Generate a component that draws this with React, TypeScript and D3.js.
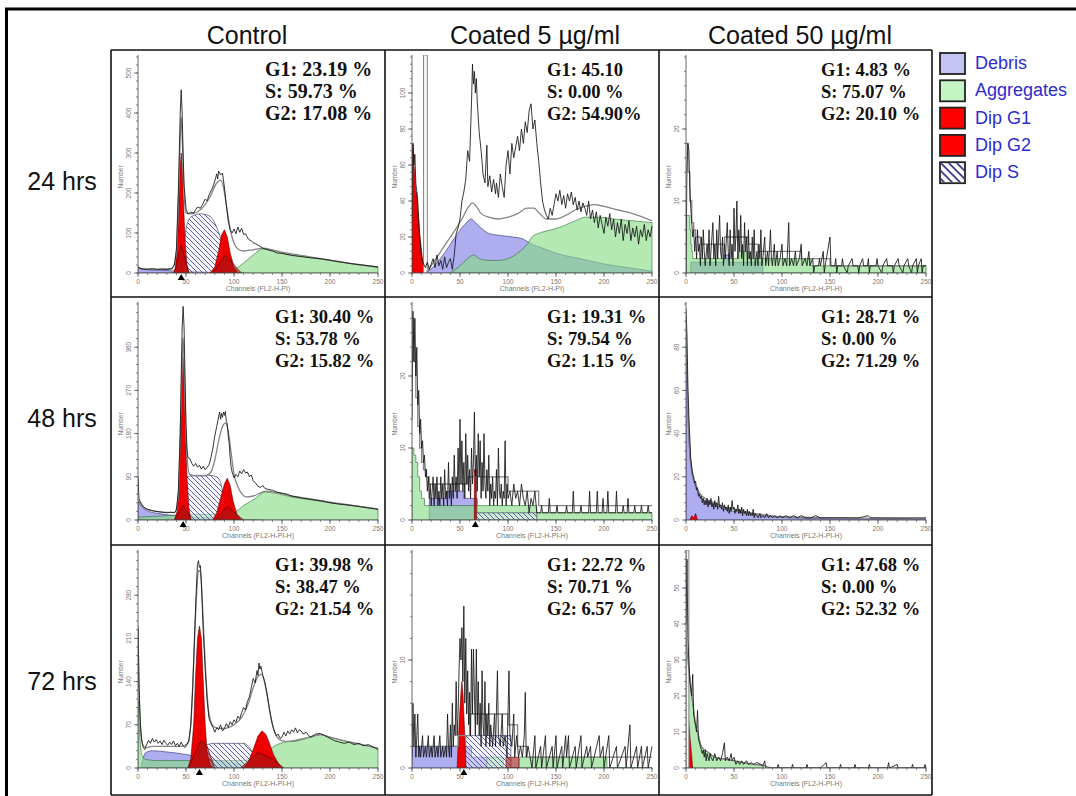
import React from 'react'
import * as d3 from 'd3'

type Pt = [number, number]

const columns = ['Control', 'Coated 5 µg/ml', 'Coated 50 µg/ml']
const rows = ['24 hrs', '48 hrs', '72 hrs']
const legendNames = ['Debris', 'Aggregates', 'Dip G1', 'Dip G2', 'Dip S']

// ---- Control, 24 hrs
const ctrl24Raw: Pt[] = [[0,16],[2,12],[5,10],[10,9],[15,11],[20,9],[25,10],[30,9],[35,11],[38,20],[40,60],[42,200],[44,400],[45,458],[46,400],[47,300],[48,220],[50,160],[52,148],[55,152],[58,150],[60,158],[62,165],[65,162],[68,175],[70,185],[72,180],[74,195],[76,205],[78,215],[80,230],[82,248],[83,235],[84,255],[86,245],[88,250],[90,215],[92,170],[94,130],[96,108],[98,100],[100,110],[102,98],[104,115],[106,102],[108,112],[110,96],[112,98],[115,85],[118,80],[120,76],[125,70],[130,62],[135,58],[140,55],[145,50],[150,49],[160,44],[170,41],[180,38],[190,36],[200,32],[210,28],[220,24],[230,21],[240,18],[250,15]]
const ctrl24Fit: Pt[] = [[0,15],[5,10],[20,9],[35,10],[40,50],[42,180],[44,340],[45,390],[46,340],[48,200],[50,150],[55,148],[65,158],[75,190],[82,225],[86,232],[89,215],[92,170],[96,110],[100,75],[104,60],[110,55],[120,58],[130,62],[140,58],[150,52],[175,42],[200,32],[225,23],[250,15]]
const ctrl24Debris: Pt[] = [[0,14],[5,9],[20,7],[40,5],[60,3],[90,1],[110,0]]
const ctrl24Agg: Pt[] = [[92,0],[100,8],[110,25],[120,45],[130,60],[140,57],[150,50],[175,40],[200,31],[225,22],[250,14]]
const ctrl24S: Pt[] = [[47,0],[50,110],[55,140],[65,148],[75,142],[80,125],[85,95],[90,55],[95,22],[100,0]]
const ctrl24G1: Pt[] = [[37,0],[39,15],[41,70],[43,200],[44,270],[45,300],[46,270],[47,200],[49,80],[51,20],[53,0]]
const ctrl24G2: Pt[] = [[75,0],[80,15],[84,55],[87,95],[90,108],[93,90],[96,50],[100,15],[104,0]]
const ctrl24SoftA: Pt[] = [[38,0],[45,70],[53,0]]
const ctrl24SoftB: Pt[] = [[78,0],[85,25],[91,45],[97,30],[103,12],[108,0]]
const ctrl24Stats = ['G1: 23.19 %', 'S: 59.73 %', 'G2: 17.08 %']

// ---- Coated 5, 24 hrs
const lo24Raw: Pt[] = [[0,30],[1,72],[2,60],[3,66],[4,50],[5,45],[6,40],[7,30],[8,20],[10,8],[12,5],[14,3],[16,6],[18,2],[20,5],[22,8],[24,3],[26,10],[28,4],[30,7],[32,2],[34,9],[36,3],[38,6],[40,8],[42,2],[44,10],[46,22],[48,25],[50,30],[52,40],[54,45],[56,52],[58,68],[60,62],[62,95],[63,116],[64,105],[65,112],[66,100],[67,108],[68,95],[70,78],[72,68],[74,55],[76,50],[78,71],[79,48],[81,54],[83,45],[85,52],[87,44],[88,50],[90,42],[92,55],[94,48],[96,42],[98,60],[100,68],[102,55],[104,72],[106,64],[108,70],[110,76],[112,68],[114,80],[116,72],[118,84],[120,78],[122,90],[124,94],[126,80],[128,85],[130,72],[132,62],[134,50],[136,40],[138,35],[140,32],[142,30],[144,36],[146,32],[148,38],[150,44],[152,40],[154,46],[156,38],[158,43],[160,36],[162,44],[164,40],[166,45],[168,38],[170,42],[172,35],[174,40],[176,34],[178,39],[180,36],[182,32],[184,40],[186,30],[188,35],[190,28],[192,34],[194,25],[196,32],[198,27],[200,22],[202,31],[204,26],[206,33],[208,24],[210,30],[212,20],[214,28],[216,22],[218,30],[220,18],[222,27],[224,22],[226,29],[228,18],[230,25],[232,20],[234,26],[236,16],[238,24],[240,20],[242,27],[244,18],[246,24],[248,20],[250,26]]
const lo24Fit: Pt[] = [[15,0],[25,8],[35,16],[45,24],[52,30],[58,36],[63,39],[67,37],[72,33],[80,31],[90,30],[100,31],[110,33],[120,36],[127,36],[133,33],[140,30],[150,30],[160,32],[170,35],[180,37],[190,38],[200,37],[215,35],[230,33],[250,29]]
const lo24Debris: Pt[] = [[15,0],[25,5],[35,12],[45,20],[55,27],[62,30],[66,28],[72,25],[80,22],[90,21],[105,20],[115,19],[125,16],[135,14],[150,11],[175,8],[200,5],[225,3],[250,1]]
const lo24Agg: Pt[] = [[40,0],[50,4],[58,8],[64,10],[70,8],[80,7],[90,7],[100,8],[110,11],[120,16],[125,20],[132,22],[145,24],[157,26],[170,29],[180,31],[195,31],[210,30],[230,29],[250,28]]
const lo24G1: Pt[] = [[0,0],[0,68],[1,72],[2,60],[3,55],[4,42],[5,45],[6,35],[8,22],[10,12],[12,4],[14,0]]
const lo24Gate: Pt = [12, 16]
const lo24Stats = ['G1: 45.10', 'S: 0.00 %', 'G2: 54.90%']

// ---- Coated 50, 24 hrs
const hi24Raw: Pt[] = [[0,0],[1,15],[2,18],[3,17],[4,12],[5,9],[6,7],[7,5],[8,6],[9,3],[10,5],[11,2],[12,6],[13,3],[14,4],[15,1],[16,5],[17,2],[18,6],[19,3],[20,1],[22,4],[23,2],[24,6],[25,1],[27,5],[28,7],[29,2],[30,4],[31,1],[32,6],[33,2],[35,8],[36,3],[37,2],[38,5],[39,1],[40,4],[41,2],[43,7],[44,3],[45,1],[46,6],[47,2],[48,4],[49,1],[50,9],[51,3],[52,5],[53,10],[54,2],[55,6],[56,3],[57,8],[58,2],[59,4],[60,1],[61,7],[62,3],[63,5],[64,1],[65,6],[66,2],[67,3],[68,1],[69,5],[70,2],[71,6],[72,1],[74,3],[75,1],[76,4],[77,2],[78,6],[79,1],[80,2],[82,5],[83,1],[85,3],[86,1],[88,6],[89,2],[90,1],[92,4],[93,1],[95,3],[96,1],[98,2],[100,4],[101,1],[103,2],[105,1],[107,7],[108,1],[110,2],[112,1],[114,3],[115,1],[118,2],[120,4],[121,1],[124,2],[126,1],[128,3],[129,1],[132,2],[133,0],[134,1],[138,1],[139,2],[140,1],[143,3],[144,0],[145,1],[150,5],[151,1],[155,1],[156,2],[157,0],[158,1],[162,1],[163,2],[164,1],[168,0],[169,1],[173,2],[174,1],[179,1],[180,0],[181,1],[184,2],[185,1],[189,1],[190,2],[191,0],[192,1],[198,1],[199,2],[200,1],[204,0],[205,1],[209,2],[210,1],[215,1],[216,0],[217,1],[221,2],[222,1],[226,0],[227,1],[231,2],[232,1],[235,0],[236,1],[240,2],[241,0],[242,1],[245,2],[246,0],[247,1],[250,1]]
const hi24Fit: Pt[] = [[0,18],[2,14],[4,10],[6,7],[8,6],[10,5],[15,4],[40,5],[65,4],[75,3],[120,2],[150,1],[250,1]]
const hi24Debris: Pt[] = [[5,1.5],[40,2.5],[45,1.5],[80,0],[250,0]]
const hi24Agg: Pt[] = [[0,8],[3,8],[4,6],[5,4],[6,3],[7,2],[55,3],[65,2],[130,1],[250,1]]
const hi24Stats = ['G1: 4.83 %', 'S: 75.07 %', 'G2: 20.10 %']

// ---- Control, 48 hrs
const ctrl48Raw: Pt[] = [[0,90],[1,45],[2,40],[4,32],[6,27],[8,24],[10,22],[14,20],[18,18],[22,17],[26,16],[30,15],[34,16],[38,15],[40,20],[42,60],[44,180],[45,300],[46,400],[47,445],[48,400],[49,300],[50,200],[51,150],[52,130],[54,128],[56,118],[58,112],[60,118],[62,110],[64,114],[66,106],[68,112],[70,105],[72,110],[74,115],[76,130],[78,150],[80,175],[82,195],[84,215],[85,225],[86,210],[87,222],[88,214],[89,225],[90,218],[91,226],[92,205],[93,200],[94,175],[95,160],[96,130],[97,110],[98,100],[100,88],[102,95],[104,90],[106,102],[108,96],[110,105],[112,98],[114,100],[116,90],[118,94],[120,82],[122,78],[125,70],[128,68],[130,72],[132,66],[135,64],[140,62],[145,58],[150,56],[155,54],[160,50],[170,46],[180,43],[190,40],[200,36],[210,33],[220,31],[230,28],[240,25],[250,22]]
const ctrl48Fit: Pt[] = [[0,42],[2,36],[5,28],[10,22],[20,18],[30,16],[38,16],[42,50],[44,180],[46,330],[47,380],[48,330],[50,180],[52,110],[54,95],[60,92],[70,92],[76,100],[80,125],[84,165],[88,195],[91,202],[94,185],[97,140],[100,95],[104,70],[108,55],[113,48],[120,50],[133,60],[145,57],[160,50],[180,44],[200,37],[225,30],[250,23]]
const ctrl48Debris: Pt[] = [[0,40],[2,32],[5,25],[10,19],[20,14],[30,11],[40,9],[50,7],[70,5],[90,3],[110,1],[130,0]]
const ctrl48Agg: Pt[] = [[0,6],[20,8],[40,10],[60,12],[80,12],[95,12],[100,15],[110,30],[120,42],[133,58],[145,55],[160,48],[180,42],[200,36],[225,30],[250,23]]
const ctrl48S: Pt[] = [[48,0],[51,90],[60,93],[75,93],[82,90],[86,78],[89,50],[92,20],[95,0]]
const ctrl48G1: Pt[] = [[38,0],[41,20],[43,90],[45,230],[46,310],[47,340],[48,310],[49,220],[51,90],[53,25],[55,0]]
const ctrl48G2: Pt[] = [[78,0],[82,15],[86,45],[90,75],[93,87],[96,72],[99,40],[103,12],[107,0]]
const ctrl48SoftA: Pt[] = [[38,0],[47,30],[56,0]]
const ctrl48SoftB: Pt[] = [[80,0],[93,28],[110,0]]
const ctrl48Stats = ['G1: 30.40 %', 'S: 53.78 %', 'G2: 15.82 %']

// ---- Coated 5, 48 hrs
const lo48Raw: Pt[] = [[0,14],[1,29],[2,22],[3,28],[4,20],[5,24],[6,16],[7,18],[8,12],[9,14],[10,10],[11,11],[12,8],[13,9],[14,6],[15,7],[16,4],[17,6],[18,3],[19,5],[20,2],[21,4],[22,6],[23,2],[24,5],[25,3],[26,6],[27,2],[28,4],[29,2],[30,6],[31,3],[32,5],[33,2],[34,7],[35,3],[36,4],[37,2],[38,8],[39,3],[40,5],[41,2],[42,6],[43,3],[44,9],[45,4],[46,6],[47,3],[48,10],[49,4],[50,14],[51,5],[52,11],[53,4],[54,8],[55,3],[56,12],[57,5],[58,9],[59,4],[60,7],[61,3],[62,10],[63,5],[64,8],[65,15],[66,6],[67,9],[68,4],[69,12],[70,6],[71,11],[72,3],[73,8],[74,4],[75,12],[76,5],[77,3],[78,7],[79,4],[80,9],[81,2],[82,5],[83,3],[84,6],[85,2],[86,4],[87,3],[88,7],[89,2],[90,10],[91,4],[92,3],[93,5],[94,2],[95,4],[96,3],[97,11],[98,2],[99,5],[100,3],[102,4],[104,2],[106,5],[108,3],[110,4],[112,2],[114,5],[116,3],[118,2],[120,4],[122,1],[124,3],[126,2],[128,4],[130,1],[134,1],[135,2],[136,1],[142,1],[143,3],[144,1],[150,1],[151,2],[152,1],[160,1],[161,2],[162,1],[167,1],[168,4],[169,1],[175,1],[176,2],[177,1],[184,1],[185,4],[186,1],[192,1],[193,4],[194,1],[198,1],[199,3],[200,1],[203,1],[204,4],[205,1],[212,1],[213,4],[214,1],[219,1],[220,2],[221,1],[224,1],[225,3],[226,1],[231,1],[232,2],[233,1],[238,1],[239,2],[240,1],[245,1],[246,2],[247,1],[250,1]]
const lo48Fit: Pt[] = [[0,28],[2,22],[4,17],[6,13],[8,10],[10,8],[12,7],[15,6],[18,5],[58,6],[100,4],[132,2],[250,2]]
const lo48Debris: Pt[] = [[18,3],[36,4],[54,3],[68,0],[250,0]]
const lo48Agg: Pt[] = [[0,10],[2,9],[4,8],[6,6],[8,4],[10,3],[13,2],[130,1],[250,1]]
const lo48S: Pt[] = [[66,0],[66,1],[130,1],[130,0]]
const lo48G1: Pt[] = [[65,0],[65,7],[67,7],[67,0]]
const lo48Stats = ['G1: 19.31 %', 'S: 79.54 %', 'G2: 1.15 %']

// ---- Coated 50, 48 hrs
const hi48Raw: Pt[] = [[0,98],[1,86],[2,62],[3,48],[4,38],[5,28],[6,24],[7,21],[8,20],[9,17],[10,18],[11,14],[12,15],[13,11],[14,12],[15,10],[16,11],[17,8],[18,10],[19,7],[20,9],[21,7],[22,10],[23,6],[24,9],[25,7],[26,10],[27,6],[28,8],[29,5],[30,9],[31,6],[32,8],[33,5],[34,11],[35,6],[36,7],[37,5],[38,8],[39,4],[40,7],[41,5],[42,6],[43,4],[44,7],[45,3],[46,6],[47,4],[48,9],[49,5],[50,6],[51,3],[52,5],[53,4],[54,7],[55,3],[56,5],[57,3],[58,6],[59,2],[60,5],[61,3],[62,4],[63,2],[64,5],[65,2],[66,4],[67,2],[68,3],[69,2],[70,5],[71,1],[72,3],[73,2],[74,2],[75,1],[77,3],[78,1],[80,2],[82,1],[84,3],[86,1],[88,2],[90,1],[92,2],[95,1],[98,2],[100,1],[104,2],[108,1],[112,2],[116,1],[120,2],[125,1],[130,1],[135,2],[140,1],[150,1],[160,1],[170,1],[180,1],[190,2],[192,1],[200,1],[210,1],[220,1],[230,1],[240,1],[250,1]]
const hi48Fit: Pt[] = [[0,88],[1,70],[2,52],[3,40],[4,32],[6,24],[8,19],[10,16],[15,12],[20,10],[30,8],[40,6],[50,5],[60,4],[80,2.5],[100,1.5],[150,1],[250,0.5]]
const hi48Debris: Pt[] = [[0,86],[1,68],[2,50],[3,38],[4,30],[6,22],[8,18],[10,15],[15,11],[20,9],[30,7],[40,5],[50,4],[60,3.5],[80,2],[100,1.2],[150,0.6],[250,0.3]]
const hi48G1: Pt[] = [[4,0],[6,2],[8,1],[10,3],[12,0]]
const hi48Stats = ['G1: 28.71 %', 'S: 0.00 %', 'G2: 71.29 %']

// ---- Control, 72 hrs
const ctrl72Raw: Pt[] = [[0,230],[1,140],[2,90],[3,60],[4,45],[5,35],[7,30],[9,38],[11,45],[13,40],[15,48],[17,42],[19,46],[21,40],[23,44],[25,38],[27,45],[29,40],[31,37],[33,42],[35,38],[37,44],[39,36],[41,40],[43,35],[45,42],[47,36],[49,33],[51,38],[53,45],[55,70],[57,130],[59,220],[61,300],[62,330],[63,336],[64,325],[65,328],[66,300],[67,260],[68,220],[70,160],[72,110],[74,80],[76,72],[78,66],[80,58],[82,65],[84,62],[86,70],[88,60],[90,64],[92,72],[94,66],[96,75],[98,70],[100,78],[102,74],[104,84],[106,80],[108,90],[110,98],[112,94],[114,108],[116,115],[118,130],[120,145],[122,138],[124,158],[125,150],[126,170],[127,160],[128,165],[130,150],[132,140],[134,125],[136,105],[138,85],[140,70],[142,60],[144,52],[146,55],[148,48],[150,50],[152,58],[154,52],[156,60],[158,55],[160,62],[162,58],[164,65],[166,57],[168,62],[170,60],[172,55],[175,58],[178,52],[180,50],[185,55],[190,56],[195,52],[200,48],[205,44],[210,42],[215,40],[220,42],[225,38],[230,40],[235,36],[240,38],[245,34],[250,30]]
const ctrl72Fit: Pt[] = [[0,225],[1,130],[2,85],[3,55],[5,38],[8,33],[15,35],[30,35],[45,35],[52,40],[55,70],[58,170],[61,280],[63,320],[65,318],[67,270],[70,170],[73,100],[76,75],[80,66],[90,64],[100,70],[108,82],[115,105],[120,130],[125,148],[129,152],[133,130],[137,95],[141,65],[145,50],[150,44],[160,43],[170,46],[180,50],[190,54],[200,50],[215,44],[230,39],[250,32]]
const ctrl72Debris: Pt[] = [[3,0],[8,25],[15,28],[30,26],[50,22],[70,16],[90,10],[110,5],[130,0]]
const ctrl72Agg: Pt[] = [[0,110],[1,80],[2,50],[3,30],[5,18],[8,14],[20,12],[40,12],[60,12],[80,12],[100,12],[115,13],[125,18],[135,28],[145,38],[160,44],[175,49],[190,54],[200,50],[215,44],[230,39],[250,32]]
const ctrl72S: Pt[] = [[55,0],[60,20],[66,32],[72,38],[80,40],[110,40],[115,35],[120,22],[124,0]]
const ctrl72G1: Pt[] = [[52,0],[55,15],[58,70],[60,150],[62,210],[64,230],[66,210],[68,140],[70,70],[72,25],[75,5],[77,0]]
const ctrl72G2: Pt[] = [[110,0],[115,10],[120,30],[125,52],[129,60],[133,55],[137,40],[141,22],[146,8],[150,0]]
const ctrl72SoftA: Pt[] = [[52,0],[66,45],[72,35],[80,0]]
const ctrl72SoftB: Pt[] = [[107,0],[125,25],[140,15],[152,0]]
const ctrl72Stats = ['G1: 39.98 %', 'S: 38.47 %', 'G2: 21.54 %']

// ---- Coated 5, 72 hrs
const lo72Raw: Pt[] = [[0,1],[1,6],[2,2],[3,5],[4,1],[5,3],[6,5],[7,1],[8,2],[9,1],[11,3],[12,1],[14,2],[15,1],[17,3],[18,1],[20,2],[21,1],[23,3],[24,1],[26,2],[27,1],[29,3],[30,1],[32,2],[33,1],[35,2],[36,1],[37,5],[38,2],[39,1],[40,4],[41,1],[42,6],[43,2],[44,4],[45,3],[46,8],[47,3],[48,5],[49,9],[50,12],[51,10],[52,13],[53,8],[54,15],[55,6],[56,12],[57,5],[58,9],[59,4],[60,7],[61,3],[62,11],[63,5],[64,11],[65,7],[66,3],[67,11],[68,4],[69,8],[70,3],[71,6],[72,2],[73,9],[74,4],[75,3],[76,8],[77,2],[78,5],[79,3],[80,6],[81,2],[82,4],[84,2],[86,5],[87,2],[89,9],[90,3],[92,2],[94,5],[95,2],[97,3],[99,1],[101,9],[102,3],[104,2],[106,5],[107,1],[109,3],[111,1],[113,2],[115,1],[117,3],[118,7],[119,1],[121,2],[123,1],[125,0],[128,3],[129,0],[134,2],[135,0],[139,3],[140,0],[146,2],[147,0],[150,3],[151,0],[156,2],[157,0],[160,3],[161,1],[163,3],[164,0],[170,2],[171,0],[176,3],[177,0],[182,2],[183,1],[186,2],[187,0],[195,3],[196,1],[199,2],[200,0],[205,3],[206,0],[213,2],[214,0],[222,2],[223,0],[227,4],[228,0],[234,2],[235,0],[239,2],[240,0],[245,2],[246,0],[250,2]]
const lo72Fit: Pt[] = [[0,2],[48,3],[60,5],[100,4],[110,2],[120,1],[250,1]]
const lo72Debris: Pt[] = [[0,2],[62,1],[78,0],[250,0]]
const lo72Agg: Pt[] = [[78,1],[95,0],[112,1],[203,0],[250,0]]
const lo72S: Pt[] = [[56,0],[56,3],[103,3],[103,0]]
const lo72G1: Pt[] = [[47,0],[49,4],[51,7],[52,8],[53,7],[55,3],[56,0]]
const lo72Soft: Pt[] = [[98,0],[98,1],[111,1],[111,0]]
const lo72Stats = ['G1: 22.72 %', 'S: 70.71 %', 'G2: 6.57 %']

// ---- Coated 50, 72 hrs
const hi72Raw: Pt[] = [[0,40],[1,58],[2,36],[3,30],[4,24],[5,22],[6,20],[7,26],[8,15],[9,13],[10,12],[11,10],[12,16],[13,8],[14,7],[15,6],[16,5],[17,4],[18,5],[19,3],[20,5],[21,2],[22,4],[23,3],[24,2],[25,4],[26,3],[28,2],[30,4],[32,2],[34,3],[36,2],[38,4],[40,7],[41,2],[43,3],[45,2],[47,4],[48,2],[50,3],[52,1],[54,2],[56,1],[58,2],[60,1],[63,2],[65,1],[68,1.5],[70,1],[74,1.5],[78,1],[80,0.5],[82,2],[83,0],[95,0],[96,1],[97,0],[110,0],[111,1],[112,0],[125,0],[126,1],[127,0],[140,0],[146,1.5],[147,0],[160,0],[161,1],[162,0],[175,0],[176,1],[177,0],[190,0],[191,1],[192,0],[210,0],[211,1.5],[212,0],[220,1],[221,0],[235,0],[236,1],[237,0],[248,0],[249,1],[250,0]]
const hi72Fit: Pt[] = [[0,36],[2,30],[4,25],[6,20],[8,16],[10,12],[13,9],[16,6],[20,5],[25,4],[30,3],[40,2.5],[50,2],[60,1.5],[70,1],[80,0.8],[90,0],[250,0]]
const hi72Agg: Pt[] = [[0,35],[2,30],[4,25],[6,20],[8,16],[10,12],[13,9],[16,6],[20,5],[25,4],[30,3],[40,2.5],[50,2],[60,1.5],[70,1],[80,0.8],[81,0]]
const hi72G1: Pt[] = [[0,0],[0,22],[2,16],[4,9],[6,3],[7,0]]
const hi72Gate: Pt = [0, 3]
const hi72Stats = ['G1: 47.68 %', 'S: 0.00 %', 'G2: 52.32 %']

type Panel = {
  yMax: number
  ticks: number[]
  minor: number
  smooth: boolean
  raw: Pt[]
  fit: Pt[]
  debris?: Pt[]
  agg?: Pt[]
  s?: Pt[]
  reds: Pt[][]
  soft: Pt[][]
  gate?: Pt
  marker?: number
  stats: string[]
  xLabel: string
}

const panels: Panel[] = [
  { yMax: 540, ticks: [0, 100, 200, 300, 400, 500], minor: 20, smooth: true, raw: ctrl24Raw, fit: ctrl24Fit, debris: ctrl24Debris, agg: ctrl24Agg, s: ctrl24S, reds: [ctrl24G1, ctrl24G2], soft: [ctrl24SoftA, ctrl24SoftB], marker: 45, stats: ctrl24Stats, xLabel: 'Channels (FL2-H-PI)' },
  { yMax: 120, ticks: [0, 20, 40, 60, 80, 100], minor: 4, smooth: true, raw: lo24Raw, fit: lo24Fit, debris: lo24Debris, agg: lo24Agg, reds: [lo24G1], soft: [], gate: lo24Gate, stats: lo24Stats, xLabel: 'Channels (FL2-H-PI)' },
  { yMax: 30, ticks: [0, 10, 20], minor: 2, smooth: false, raw: hi24Raw, fit: hi24Fit, debris: hi24Debris, agg: hi24Agg, reds: [], soft: [], stats: hi24Stats, xLabel: 'Channels (FL2-H-PI-H)' },
  { yMax: 450, ticks: [0, 90, 180, 270, 360], minor: 18, smooth: true, raw: ctrl48Raw, fit: ctrl48Fit, debris: ctrl48Debris, agg: ctrl48Agg, s: ctrl48S, reds: [ctrl48G1, ctrl48G2], soft: [ctrl48SoftA, ctrl48SoftB], marker: 47, stats: ctrl48Stats, xLabel: 'Channels (FL2-H-PI-H)' },
  { yMax: 30, ticks: [0, 10, 20], minor: 2, smooth: false, raw: lo48Raw, fit: lo48Fit, debris: lo48Debris, agg: lo48Agg, s: lo48S, reds: [lo48G1], soft: [], marker: 66, stats: lo48Stats, xLabel: 'Channels (FL2-H-PI-H)' },
  { yMax: 100, ticks: [0, 20, 40, 60, 80], minor: 4, smooth: true, raw: hi48Raw, fit: hi48Fit, debris: hi48Debris, reds: [hi48G1], soft: [], stats: hi48Stats, xLabel: 'Channels (FL2-H-PI-H)' },
  { yMax: 350, ticks: [0, 70, 140, 210, 280], minor: 14, smooth: true, raw: ctrl72Raw, fit: ctrl72Fit, debris: ctrl72Debris, agg: ctrl72Agg, s: ctrl72S, reds: [ctrl72G1, ctrl72G2], soft: [ctrl72SoftA, ctrl72SoftB], marker: 64, stats: ctrl72Stats, xLabel: 'Channels (FL2-H-PI-H)' },
  { yMax: 20, ticks: [0, 10], minor: 2, smooth: false, raw: lo72Raw, fit: lo72Fit, debris: lo72Debris, agg: lo72Agg, s: lo72S, reds: [lo72G1], soft: [lo72Soft], marker: 54, stats: lo72Stats, xLabel: 'Channels (FL2-H-PI-H)' },
  { yMax: 60, ticks: [0, 10, 20, 30, 40, 50], minor: 2, smooth: true, raw: hi72Raw, fit: hi72Fit, agg: hi72Agg, reds: [hi72G1], soft: [], gate: hi72Gate, stats: hi72Stats, xLabel: 'Channels (FL2-H-PI-H)' },
]

const colX = [111, 385, 659, 932]
const rowY = [50, 297, 545, 795]
const headerX = [247, 535, 800]
const statX = [[265, 547, 821], [275, 547, 821], [275, 547, 821]]
const sans = 'Liberation Sans, Arial, sans-serif'
const serif = 'Liberation Serif, Times New Roman, serif'

function Histogram({ p, i }: { p: Panel; i: number }) {
  const r = Math.floor(i / 3)
  const c = i % 3
  const px = colX[c]
  const py = rowY[r]
  const left = px + 27
  const right = left + 240
  const top = py + 7
  const bottom = py + 223
  const x = d3.scaleLinear().domain([0, 250]).range([left, right])
  const y = d3.scaleLinear().domain([0, p.yMax]).range([bottom, top])
  const compCurve = p.smooth ? d3.curveMonotoneX : d3.curveStepAfter
  const area = (curve: d3.CurveFactory) =>
    d3.area<Pt>().x(d => x(d[0])).y0(bottom).y1(d => y(d[1])).curve(curve)
  const line = (curve: d3.CurveFactory) =>
    d3.line<Pt>().x(d => x(d[0])).y(d => y(d[1])).curve(curve)
  const clipId = `clip${i}`
  const minorY = d3.range(0, p.yMax + 0.001, p.minor)
  const minorX = d3.range(0, 251, 10)
  const xMajor = [0, 50, 100, 150, 200, 250]

  return (
    <g>
      <clipPath id={clipId}>
        <rect x={left} y={top - 2} width={right - left + 2} height={bottom - top + 2} />
      </clipPath>
      <g clipPath={`url(#${clipId})`}>
        {p.debris && (
          <path d={area(compCurve)(p.debris) ?? ''} fill="#a4a4ee" fillOpacity={0.9} stroke="#2c2c70" strokeWidth={0.6} />
        )}
        {p.agg && (
          <path d={area(compCurve)(p.agg) ?? ''} fill="#86dc86" fillOpacity={0.62} stroke="#2d6b2d" strokeWidth={0.6} />
        )}
        {p.s && (
          <g>
            <path d={area(d3.curveMonotoneX)(p.s) ?? ''} fill="#ececf8" fillOpacity={0.45} />
            <path d={area(d3.curveMonotoneX)(p.s) ?? ''} fill="url(#hatch)" stroke="#30305a" strokeWidth={0.6} />
          </g>
        )}
        {p.reds.map((s, k) => (
          <path key={k} d={area(d3.curveLinear)(s) ?? ''} fill="#ee0000" stroke="#6a0000" strokeWidth={0.6} />
        ))}
        {p.soft.map((s, k) => (
          <path key={k} d={area(d3.curveLinear)(s) ?? ''} fill="#a01414" fillOpacity={0.6} stroke="#5a0000" strokeWidth={0.6} />
        ))}
        {p.gate && (
          <rect x={x(p.gate[0])} y={top - 2} width={x(p.gate[1]) - x(p.gate[0])} height={bottom - top + 2}
            fill="#f4f4f4" stroke="#888" strokeWidth={1} />
        )}
        <path d={line(p.smooth ? d3.curveMonotoneX : d3.curveStepAfter)(p.fit) ?? ''} fill="none" stroke="#858585" strokeWidth={1.3} />
        <path d={line(d3.curveLinear)(p.raw) ?? ''} fill="none" stroke="#151515" strokeWidth={0.85} />
      </g>

      {/* axes */}
      <line x1={left} x2={left} y1={top - 2} y2={bottom} stroke="#555" strokeWidth={0.9} />
      <line x1={left} x2={right} y1={bottom} y2={bottom} stroke="#555" strokeWidth={0.9} />
      {minorY.map(v => (
        <line key={'my' + v} x1={left - 2} x2={left} y1={y(v)} y2={y(v)} stroke="#555" strokeWidth={0.7} />
      ))}
      {p.ticks.map(v => (
        <g key={'ty' + v}>
          <line x1={left - 4} x2={left} y1={y(v)} y2={y(v)} stroke="#555" strokeWidth={0.8} />
          <text transform={`translate(${left - 7},${y(v)}) rotate(-90)`} textAnchor="middle"
            fontFamily={sans} fontSize={6.5} fill="#777">{v}</text>
        </g>
      ))}
      <text transform={`translate(${left - 15},${(top + bottom) / 2 + 12}) rotate(-90)`} textAnchor="middle"
        fontFamily={sans} fontSize={6.5} fill="#777">Number</text>
      {minorX.map(v => (
        <line key={'mx' + v} x1={x(v)} x2={x(v)} y1={bottom} y2={bottom + 2} stroke="#555" strokeWidth={0.7} />
      ))}
      {xMajor.map(v => (
        <g key={'tx' + v}>
          <line x1={x(v)} x2={x(v)} y1={bottom} y2={bottom + 4} stroke="#555" strokeWidth={0.8} />
          <text x={x(v)} y={bottom + 11} textAnchor="middle" fontFamily={sans} fontSize={6.5} fill="#777">{v}</text>
        </g>
      ))}
      <text x={(left + right) / 2} y={bottom + 18} textAnchor="middle" fontFamily={sans} fontSize={7} fill="#777">
        {p.xLabel}
      </text>
      {p.marker !== undefined && (
        <path d={`M${x(p.marker) - 3.5},${bottom + 7} L${x(p.marker) + 3.5},${bottom + 7} L${x(p.marker)},${bottom + 1} Z`} fill="#000" />
      )}

      {p.stats.map((s, k) => (
        <text key={k} x={statX[r][c]} y={py + 26 + k * 22} fontFamily={serif} fontWeight="bold"
          fontSize={i === 0 ? 20 : 18.5} fill="#111">{s}</text>
      ))}
    </g>
  )
}

export default function App() {
  const legendFill = ['#c4c4f4', '#c4f4c4', '#ff0000', '#ff0000', '#ffffff']
  return (
    <svg width={1076} height={796} style={{ position: 'absolute', left: 0, top: 0, background: '#fff' }}>
      <defs>
        <pattern id="hatch" patternUnits="userSpaceOnUse" width={5} height={5}>
          <path d="M0,0 L5,5 M-1,4 L1,6 M4,-1 L6,1" stroke="#3a3a96" strokeWidth={0.8} />
        </pattern>
        <pattern id="hatchBig" patternUnits="userSpaceOnUse" width={8} height={8}>
          <path d="M0,0 L8,8 M-2,6 L2,10 M6,-2 L10,2" stroke="#2a2a80" strokeWidth={1.6} />
        </pattern>
      </defs>
      <rect x={0} y={0} width={1076} height={796} fill="#fff" />

      {/* outer frame */}
      <line x1={5} x2={1076} y1={9} y2={9} stroke="#000" strokeWidth={3} />
      <line x1={6.5} x2={6.5} y1={8} y2={796} stroke="#000" strokeWidth={3} />

      {columns.map((t, k) => (
        <text key={t} x={headerX[k]} y={44} textAnchor="middle" fontFamily={sans} fontSize={25} fill="#111">{t}</text>
      ))}
      {rows.map((t, k) => (
        <text key={t} x={62} y={[190, 427, 690][k]} textAnchor="middle" fontFamily={sans} fontSize={25} fill="#111">{t}</text>
      ))}

      {panels.map((p, i) => <Histogram key={i} p={p} i={i} />)}

      {/* panel grid */}
      {colX.map(v => (
        <line key={'gx' + v} x1={v} x2={v} y1={rowY[0]} y2={rowY[3]} stroke="#111" strokeWidth={1.6} />
      ))}
      {rowY.map(v => (
        <line key={'gy' + v} x1={colX[0]} x2={colX[3]} y1={v} y2={v} stroke="#111" strokeWidth={1.6} />
      ))}

      {/* legend */}
      {legendNames.map((n, k) => (
        <g key={n} transform={`translate(940,${53 + k * 27.3})`}>
          <rect x={0} y={0} width={25} height={21} fill={legendFill[k]} stroke="#222" strokeWidth={1.8} />
          {k === 4 && <rect x={1} y={1} width={23} height={19} fill="url(#hatchBig)" />}
          <text x={35} y={16} fontFamily={sans} fontSize={18} fill="#2c2cd0">{n}</text>
        </g>
      ))}
    </svg>
  )
}
